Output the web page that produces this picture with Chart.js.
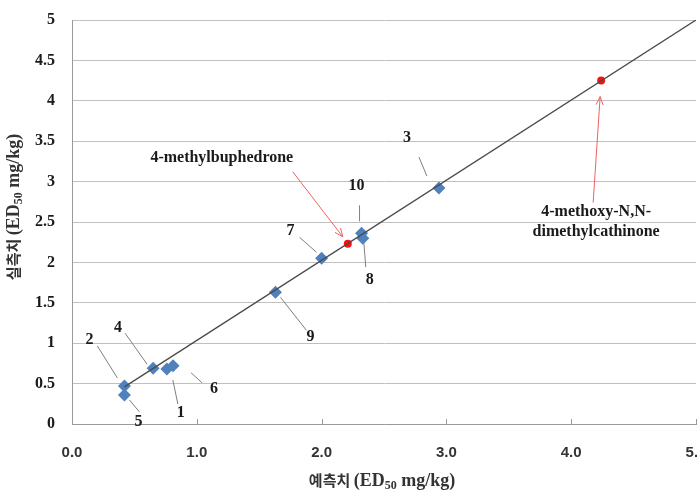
<!DOCTYPE html>
<html>
<head>
<meta charset="utf-8">
<script src="https://cdn.jsdelivr.net/npm/chart.js@4/dist/chart.umd.min.js"></script>
<style>
  html, body { margin: 0; padding: 0; background: #fff; }
  #wrap { width: 697px; height: 492px; }
</style>
</head>
<body>
<div id="wrap"><canvas id="chart"></canvas></div>
<script>
// training compounds (blue diamonds)
const compoundIds = ["1", "2", "3", "4", "5", "6", "7", "8", "9", "10"];
const predicted = [0.76, 0.42, 2.94, 0.65, 0.42, 0.81, 2.0, 2.33, 1.63, 2.32];
const measured = [0.68, 0.47, 2.92, 0.69, 0.36, 0.72, 2.05, 2.3, 1.63, 2.36];

// new compounds (red dots)
const newCompounds = ["4-methylbuphedrone", "4-methoxy-N,N-\ndimethylcathinone"];
const newPredicted = [2.21, 4.24];
const newMeasured = [2.23, 4.25];

// fitted line
const fitX = [0.42, 5.0];
const fitY = [0.46, 5.0];

const xTicks = [0, 1, 2, 3, 4, 5];
const yTicks = [0, 0.5, 1, 1.5, 2, 2.5, 3, 3.5, 4, 4.5, 5];

const toPts = (xs, ys) => xs.map((x, i) => ({ x: x, y: ys[i] }));

// label placement: pixel offsets from the point [labelDx, labelDy, lineX1, lineY1, lineX2, lineY2]
const labelOffsets = {
  "1": [14, 44, 11, 35, 6, 11],
  "2": [-35, -46, -27, -40, -7, -8],
  "3": [-32, -50, -20, -31, -12, -12],
  "4": [-35, -40, -28, -35, -6, -4],
  "5": [14, 27, 15, 17, 5, 5],
  "6": [41, 23, 29, 17, 18, 7],
  "7": [-31, -28, -22, -21, -5, -6],
  "8": [7, 42, 3, 29, 1, 4],
  "9": [35, 45, 31, 38, 5, 5],
  "10": [-5, -47, -2, -28, -2, -12]
};
const newLabelOffsets = [
  [-126, -86, -55, -72, -5, -7],
  [-5, 131, -8, 122, -1, 16]
];

const annotatePlugin = {
  id: "annotate",
  afterDatasetsDraw(chart) {
    const ctx = chart.ctx;
    const xs = chart.scales.x;
    const ys = chart.scales.y;
    ctx.save();
    ctx.textAlign = "center";
    ctx.textBaseline = "middle";
    ctx.font = "bold 16px 'Liberation Serif', 'Times New Roman', serif";
    compoundIds.forEach((id, i) => {
      const px = xs.getPixelForValue(predicted[i]);
      const py = ys.getPixelForValue(measured[i]);
      const o = labelOffsets[id];
      ctx.strokeStyle = "#7f7f7f";
      ctx.lineWidth = 1;
      ctx.beginPath();
      ctx.moveTo(px + o[2], py + o[3]);
      ctx.lineTo(px + o[4], py + o[5]);
      ctx.stroke();
      ctx.fillStyle = "#1a1a1a";
      ctx.fillText(id, px + o[0], py + o[1]);
    });
    newCompounds.forEach((name, i) => {
      const px = xs.getPixelForValue(newPredicted[i]);
      const py = ys.getPixelForValue(newMeasured[i]);
      const o = newLabelOffsets[i];
      const x1 = px + o[2], y1 = py + o[3], x2 = px + o[4], y2 = py + o[5];
      ctx.strokeStyle = "#f06060";
      ctx.lineWidth = 1;
      ctx.beginPath();
      ctx.moveTo(x1, y1);
      ctx.lineTo(x2, y2);
      const a = Math.atan2(y2 - y1, x2 - x1);
      ctx.moveTo(x2, y2);
      ctx.lineTo(x2 - 9 * Math.cos(a - 0.4), y2 - 9 * Math.sin(a - 0.4));
      ctx.moveTo(x2, y2);
      ctx.lineTo(x2 - 9 * Math.cos(a + 0.4), y2 - 9 * Math.sin(a + 0.4));
      ctx.stroke();
      ctx.fillStyle = "#1a1a1a";
      name.split("\n").forEach((line, k) => {
        ctx.fillText(line, px + o[0], py + o[1] + k * 20);
      });
    });
    // small x ticks pointing up into the plot
    ctx.strokeStyle = "#9a9a9a";
    ctx.lineWidth = 1;
    xTicks.forEach((v) => {
      const tx = Math.round(xs.getPixelForValue(v)) + 0.5;
      ctx.beginPath();
      ctx.moveTo(tx, ys.bottom);
      ctx.lineTo(tx, ys.bottom - 5);
      ctx.stroke();
    });
    ctx.restore();
  }
};

function drawRuns(ctx, runs) {
  // runs: [text, font, dy]
  let total = 0;
  runs.forEach((r) => { ctx.font = r[1]; total += ctx.measureText(r[0]).width; });
  let x = -total / 2;
  runs.forEach((r) => {
    ctx.font = r[1];
    ctx.fillText(r[0], x, r[2]);
    x += ctx.measureText(r[0]).width;
  });
}

const titlePlugin = {
  id: "axisTitles",
  afterDraw(chart) {
    const ctx = chart.ctx;
    const kor = "bold 15px 'Noto Sans CJK KR', sans-serif";
    const ser = "bold 18px 'Liberation Serif', serif";
    const sub = "bold 12px 'Liberation Serif', serif";
    ctx.save();
    ctx.fillStyle = "#333";
    ctx.textAlign = "left";
    ctx.textBaseline = "alphabetic";
    ctx.translate(382, 486);
    drawRuns(ctx, [["예측치 ", kor, 0], ["(ED", ser, 0], ["50", sub, 3], [" mg/kg)", ser, 0]]);
    ctx.restore();
    ctx.save();
    ctx.fillStyle = "#333";
    ctx.textAlign = "left";
    ctx.textBaseline = "alphabetic";
    ctx.translate(19, 207);
    ctx.rotate(-Math.PI / 2);
    drawRuns(ctx, [["실측치 ", kor, 0], ["(ED", ser, 0], ["50", sub, 3], [" mg/kg)", ser, 0]]);
    ctx.restore();
  }
};

new Chart(document.getElementById("chart"), {
  type: "scatter",
  data: {
    datasets: [
      {
        type: "line",
        label: "fit",
        data: toPts(fitX, fitY),
        borderColor: "#4a4a4a",
        borderWidth: 1.3,
        pointRadius: 0,
        fill: false
      },
      {
        label: "compounds",
        data: toPts(predicted, measured),
        pointStyle: "rectRot",
        pointRadius: 6.5,
        backgroundColor: "#4f81bd",
        borderColor: "#4f81bd",
        borderWidth: 0
      },
      {
        label: "new",
        data: toPts(newPredicted, newMeasured),
        pointStyle: "circle",
        pointRadius: 4,
        backgroundColor: "#ff1010",
        borderColor: "#ff1010",
        borderWidth: 0
      }
    ]
  },
  options: {
    responsive: true,
    maintainAspectRatio: false,
    animation: false,
    layout: { autoPadding: false, padding: { top: 20, right: 1, left: 0, bottom: 0 } },
    plugins: { legend: { display: false }, tooltip: { enabled: false } },
    scales: {
      x: {
        type: "linear",
        min: 0,
        max: 5,
        afterBuildTicks: (s) => { s.ticks = xTicks.map((v) => ({ value: v })); },
        afterFit: (s) => { s.height = 68; s.paddingLeft = 0; s.paddingRight = 0; },
        grid: { drawOnChartArea: false, drawTicks: false, color: "#9a9a9a" },
        border: { color: "#9a9a9a" },
        ticks: {
          padding: 20,
          color: "#333",
          font: { family: "'Liberation Sans', Arial, sans-serif", size: 15, weight: "bold" },
          callback: (v) => v.toFixed(1)
        }
      },
      y: {
        type: "linear",
        min: 0,
        max: 5,
        afterBuildTicks: (s) => { s.ticks = yTicks.map((v) => ({ value: v })); },
        afterFit: (s) => { s.width = 72; s.paddingTop = 0; s.paddingBottom = 0; },
        grid: { drawTicks: false, color: "#c0c0c0" },
        border: { color: "#9a9a9a" },
        ticks: {
          padding: 17,
          color: "#1a1a1a",
          font: { family: "'Liberation Serif', 'Times New Roman', serif", size: 16, weight: "bold" },
          callback: (v) => String(v)
        }
      }
    }
  },
  plugins: [annotatePlugin, titlePlugin]
});
</script>
</body>
</html>
